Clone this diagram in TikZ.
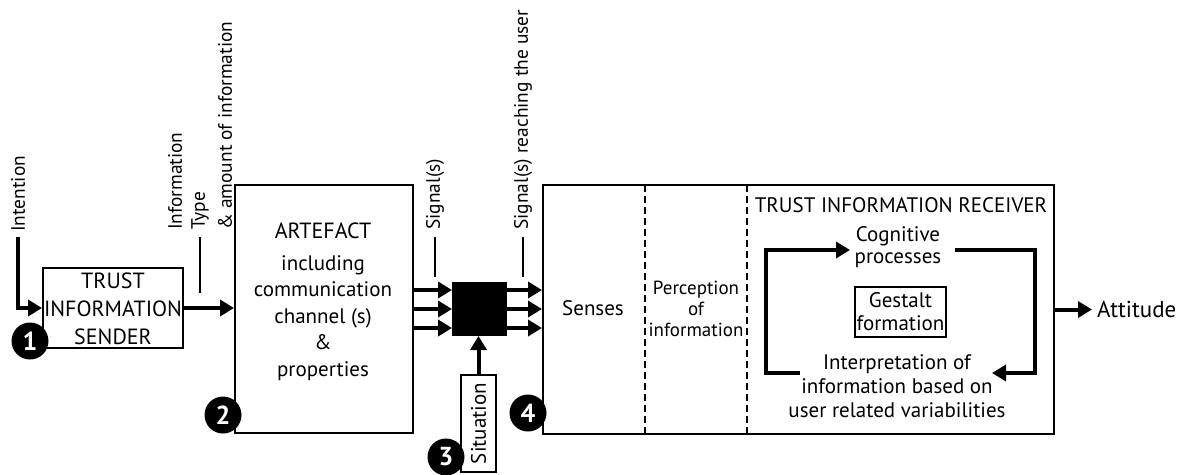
\documentclass[tikz,border=0pt]{standalone}
\usepackage{fontspec}
\setmainfont{PT Sans}
\usetikzlibrary{arrows.meta}
\begin{document}
\begin{tikzpicture}[x=1pt,y=-1pt,
  frame/.style={draw, line width=2pt, inner sep=0pt},
  arr/.style={line width=4pt, -{Triangle[length=14pt,width=16pt]}},
  tick/.style={line width=2pt},
  dsh/.style={line width=2pt, dash pattern=on 7pt off 4pt},
  txt/.style={align=center, inner sep=0pt, font=\fontsize{21}{27}\selectfont},
  vlbl/.style={rotate=90, anchor=west, inner sep=0pt, font=\fontsize{19.4}{23}\selectfont},
  badge/.style={circle, fill=black, text=white, minimum size=37pt, inner sep=0pt,
    font=\bfseries\fontsize{26}{26}\selectfont}]
\useasboundingbox (0,0) rectangle (1182,474);

% boxes
\node[frame, minimum width=140pt, minimum height=80pt] (sender) at (113,308) {};
\node[frame, minimum width=178pt, minimum height=248pt] (artefact) at (324,309) {};
\node[frame, fill=black, minimum width=53pt, minimum height=52pt] (mixer) at (479.5,309) {};
\node[frame, rotate=90, minimum width=97pt, minimum height=35pt, font=\fontsize{21}{25}\selectfont] (situation) at (478.5,423.5) {Situation};
\node[frame, minimum width=511pt, minimum height=249pt] (receiver) at (798.5,309.5) {};
\node[frame, minimum width=91pt, minimum height=50pt] (gestalt) at (900.5,312) {};

% texts inside boxes
\node[txt, font=\fontsize{22}{28}\selectfont] (sendertxt) at (113,309) {TRUST\\INFORMATION\\SENDER};
\node[txt, font=\fontsize{22}{27}\selectfont] (arttitle) at (323,231) {ARTEFACT};
\node[txt, font=\fontsize{21}{26.5}\selectfont] (artbody) at (323,318) {including\\communication\\channel (s)\\\&\\properties};
\node[txt] (senses) at (593,308) {Senses};
\node[txt, font=\fontsize{19}{21}\selectfont] (percep) at (696,309) {Perception\\of\\information};
\node[txt, font=\fontsize{21}{27}\selectfont] (rectitle) at (901,205) {TRUST INFORMATION RECEIVER};
\node[txt, font=\fontsize{21}{22}\selectfont] (cogn) at (898,247) {Cognitive\\processes};
\node[txt, font=\fontsize{21}{23}\selectfont] (gtxt) at (gestalt) {Gestalt\\formation};
\node[txt, font=\fontsize{21}{24}\selectfont] (interp) at (897,386) {Interpretation of\\information based on\\user related variabilities};
\node[txt, anchor=west, font=\fontsize{23}{27}\selectfont] (attitude) at (1097,309) {Attitude};

% vertical labels and their ticks
\node[vlbl] (intention) at (18,232) {Intention};
\node[vlbl] (infolbl) at (175,230) {Information};
\node[vlbl] (typelbl) at (200,230) {Type};
\node[vlbl] (amountlbl) at (225,230) {\& amount of information};
\node[vlbl] (siglbl) at (435,230) {Signal(s)};
\node[vlbl] (reachlbl) at (523,230) {Signal(s) reaching the user};
\coordinate (typetop) at (200,237);
\coordinate (typebot) at (200,293);
\coordinate (sigtop) at (435,237);
\coordinate (sigbot) at (435,277);
\coordinate (reachtop) at (523,237);
\coordinate (reachbot) at (523,277);
\draw[tick] (typetop) -- (typebot);
\draw[tick] (sigtop) -- (sigbot);
\draw[tick] (reachtop) -- (reachbot);

% main flow
\coordinate (intentfoot) at (18,237);
\draw[arr] (intentfoot) |- (sender.west);
\draw[arr] (sender.east) -- (sender.east -| artefact.west);
\foreach \dy in {-19,0,19}{
  \draw[arr] ([yshift=\dy pt]artefact.east |- mixer.west) -- ([yshift=\dy pt]mixer.west);
  \draw[arr] ([yshift=\dy pt]mixer.east) -- ([yshift=\dy pt]mixer.east -| receiver.west);
}
\draw[arr] (situation.east) -- (situation.east |- mixer.south);
\coordinate (attend) at (1092,309.5);
\draw[arr] (receiver.east) -- (attend);

% stage separators in the receiver
\coordinate (sepAtop) at (645,185);
\coordinate (sepAbot) at (645,434);
\coordinate (sepBtop) at (747,185);
\coordinate (sepBbot) at (747,434);
\draw[dsh] (sepAtop) -- (sepAbot);
\draw[dsh] (sepBtop) -- (sepBbot);

% cognitive loop
\coordinate (loopLstart) at (800,373);
\coordinate (loopLbot) at (766,373);
\coordinate (loopLtop) at (766,250);
\coordinate (loopLend) at (850,250);
\draw[arr] (loopLstart) -- (loopLbot) -- (loopLtop) -- (loopLend);
\coordinate (loopRstart) at (955,250);
\coordinate (loopRtop) at (1035,250);
\coordinate (loopRbot) at (1035,373);
\coordinate (loopRend) at (992,373);
\draw[arr] (loopRstart) -- (loopRtop) -- (loopRbot) -- (loopRend);

% numbered stages
\node[badge] (b1) at (30,341) {1};
\node[badge] (b2) at (223,415) {2};
\node[badge] (b3) at (446,457) {3};
\node[badge] (b4) at (528,413) {4};
\end{tikzpicture}
\end{document}
